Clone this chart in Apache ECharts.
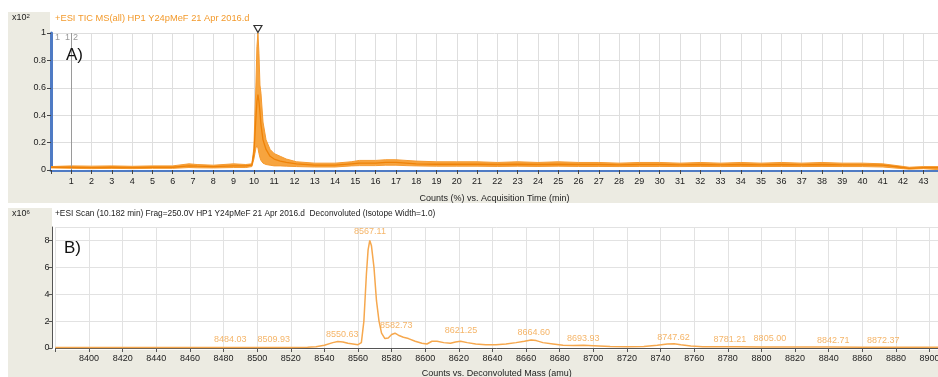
<!DOCTYPE html>
<html>
<head>
<meta charset="utf-8">
<script src="https://cdn.jsdelivr.net/npm/echarts@6/dist/echarts.min.js"></script>
<style>
  html, body { margin: 0; padding: 0; background: #fff; }
  #chart { width: 938px; height: 377px; }
</style>
</head>
<body>
<div id="chart"></div>
<script>
// A) TIC, acquisition time (min) vs counts (x10^2)
var ticTime  = [0, 1, 2, 3, 4, 5, 6, 6.8, 7.2, 8, 9, 9.6, 9.9, 10.0, 10.05, 10.1, 10.15, 10.2, 10.25, 10.3, 10.35, 10.45, 10.6, 10.8, 11.0, 11.3, 11.6, 12.1, 13, 14, 14.8, 15.2, 16, 16.5, 17, 17.5, 18, 19, 20, 21, 22, 23, 24, 25, 26, 27, 28, 29, 30, 31, 32, 33, 34, 35, 36, 37, 38, 39, 40, 41, 41.8, 42.3, 43, 43.72];
var ticUpper = [0.025, 0.03, 0.028, 0.03, 0.027, 0.03, 0.03, 0.045, 0.04, 0.035, 0.045, 0.04, 0.045, 0.16, 0.4, 0.62, 0.9, 1.0, 0.85, 0.62, 0.56, 0.35, 0.22, 0.15, 0.12, 0.1, 0.08, 0.06, 0.05, 0.05, 0.06, 0.07, 0.07, 0.075, 0.075, 0.07, 0.065, 0.06, 0.06, 0.06, 0.055, 0.06, 0.055, 0.06, 0.055, 0.055, 0.05, 0.055, 0.055, 0.05, 0.055, 0.05, 0.055, 0.05, 0.055, 0.05, 0.055, 0.05, 0.05, 0.045, 0.03, 0.02, 0.025, 0.025];
var ticMid   = [0.02, 0.02, 0.018, 0.02, 0.018, 0.02, 0.02, 0.03, 0.028, 0.025, 0.03, 0.03, 0.035, 0.12, 0.25, 0.38, 0.5, 0.55, 0.5, 0.42, 0.33, 0.22, 0.15, 0.1, 0.08, 0.065, 0.055, 0.045, 0.035, 0.035, 0.045, 0.05, 0.05, 0.055, 0.055, 0.05, 0.045, 0.042, 0.042, 0.042, 0.04, 0.042, 0.04, 0.042, 0.04, 0.04, 0.038, 0.04, 0.04, 0.038, 0.04, 0.038, 0.04, 0.038, 0.04, 0.038, 0.04, 0.038, 0.038, 0.035, 0.022, 0.012, 0.018, 0.018];
var ticLower = [0.015, 0.012, 0.01, 0.012, 0.01, 0.012, 0.012, 0.018, 0.016, 0.015, 0.018, 0.018, 0.025, 0.08, 0.12, 0.16, 0.18, 0.16, 0.12, 0.09, 0.07, 0.05, 0.04, 0.035, 0.03, 0.03, 0.028, 0.025, 0.022, 0.022, 0.03, 0.032, 0.032, 0.035, 0.035, 0.032, 0.03, 0.028, 0.028, 0.028, 0.026, 0.028, 0.026, 0.028, 0.026, 0.026, 0.025, 0.026, 0.026, 0.025, 0.026, 0.025, 0.026, 0.025, 0.026, 0.025, 0.026, 0.025, 0.025, 0.022, 0.012, 0.006, 0.01, 0.01];
var ticPeak = [10.2, 1.0];

// B) deconvoluted spectrum, mass (amu) vs counts (x10^6)
var specMass = [8380, 8400, 8450, 8500, 8520, 8530, 8535, 8540, 8545, 8548, 8551, 8554, 8557, 8560, 8562, 8563.5, 8565, 8566, 8567, 8568, 8569.5, 8571, 8572.5, 8574, 8576, 8578, 8580, 8582, 8584, 8587, 8590, 8594, 8598, 8601, 8604, 8607, 8611, 8615, 8618, 8621, 8625, 8630, 8636, 8642, 8648, 8654, 8659, 8663, 8666, 8670, 8676, 8682, 8688, 8694, 8700, 8710, 8720, 8730, 8738, 8744, 8748, 8752, 8758, 8765, 8775, 8785, 8800, 8820, 8840, 8860, 8880, 8905];
var specCounts = [0.04, 0.04, 0.04, 0.04, 0.04, 0.06, 0.1, 0.2, 0.4, 0.48, 0.45, 0.35, 0.3, 0.25, 0.4, 2.0, 5.5, 7.3, 8.0, 7.6, 6.0, 3.5, 2.0, 1.1, 0.7, 0.75, 1.0, 1.1, 0.95, 0.8, 0.7, 0.5, 0.35, 0.3, 0.5, 0.5, 0.4, 0.35, 0.45, 0.5, 0.4, 0.3, 0.25, 0.25, 0.3, 0.4, 0.5, 0.6, 0.55, 0.4, 0.3, 0.2, 0.18, 0.2, 0.17, 0.12, 0.1, 0.12, 0.2, 0.3, 0.32, 0.25, 0.15, 0.1, 0.1, 0.1, 0.08, 0.08, 0.07, 0.06, 0.06, 0.05];
var peakMass  = [8484.03, 8509.93, 8550.63, 8567.11, 8582.73, 8621.25, 8664.60, 8693.93, 8747.62, 8781.21, 8805.00, 8842.71, 8872.37];
var peakLabelY = [0.6, 0.6, 0.97, 8.65, 1.64, 1.27, 1.12, 0.67, 0.75, 0.6, 0.67, 0.52, 0.52];

var font = 'Liberation Sans';
var beige = '#ecebe2';
var orange = '#f39a2c';

function pairs(xs, ys) { return xs.map(function (x, i) { return [x, ys[i]]; }); }

var chart = echarts.init(document.getElementById('chart'));
chart.setOption({
  animation: false,
  backgroundColor: '#fff',
  textStyle: { fontFamily: font },
  graphic: [
    { type: 'rect', z: -10, shape: { x: 8, y: 12, width: 930, height: 191 }, style: { fill: beige } },
    { type: 'rect', z: -9, shape: { x: 50, y: 12, width: 888, height: 160 }, style: { fill: '#fff' } },
    { type: 'rect', z: -10, shape: { x: 8, y: 208, width: 930, height: 169 }, style: { fill: beige } },
    { type: 'rect', z: -9, shape: { x: 52, y: 208, width: 886, height: 142 }, style: { fill: '#fff' } },
    { type: 'text', z: 100, left: 12, top: 13, style: { text: '{a|x10}{b|2}', rich: { a: { fontSize: 9, fill: '#222', fontFamily: font }, b: { fontSize: 6, fill: '#222', verticalAlign: 'top', fontFamily: font } } } },
    { type: 'text', z: 100, left: 55, top: 14, style: { text: '+ESI TIC MS(all) HP1 Y24pMeF 21 Apr 2016.d', fill: orange, fontSize: 9.3, fontFamily: font } },
    { type: 'text', z: 100, left: 55, top: 33, style: { text: '1  1', fill: '#999', fontSize: 9, fontFamily: font } },
    { type: 'text', z: 100, left: 73, top: 33, style: { text: '2', fill: '#999', fontSize: 9, fontFamily: font } },
    { type: 'text', z: 100, left: 66, top: 47, style: { text: 'A)', fill: '#111', fontSize: 17, fontFamily: font } },
    { type: 'text', z: 100, left: 12, top: 209, style: { text: '{a|x10}{b|6}', rich: { a: { fontSize: 9, fill: '#222', fontFamily: font }, b: { fontSize: 6, fill: '#222', verticalAlign: 'top', fontFamily: font } } } },
    { type: 'text', z: 100, left: 55, top: 210, style: { text: '+ESI Scan (10.182 min) Frag=250.0V HP1 Y24pMeF 21 Apr 2016.d  Deconvoluted (Isotope Width=1.0)', fill: '#222', fontSize: 8.3, fontFamily: font } },
    { type: 'text', z: 100, left: 64, top: 240, style: { text: 'B)', fill: '#111', fontSize: 17, fontFamily: font } }
  ],
  grid: [
    { left: 51, right: 0, top: 33, bottom: 207, outerBoundsMode: 'none' },
    { left: 55.4, right: 0, top: 227, bottom: 29, outerBoundsMode: 'none' }
  ],
  xAxis: [
    {
      gridIndex: 0, type: 'value', min: 0, max: 43.72, interval: 1, offset: 2,
      name: 'Counts (%) vs. Acquisition Time (min)', nameLocation: 'middle', nameGap: 22,
      nameTextStyle: { fontSize: 9, color: '#222', fontFamily: font },
      axisLine: { lineStyle: { color: '#4f7bc4', width: 3 } },
      axisTick: { length: 4, lineStyle: { color: '#444' } },
      axisLabel: { fontSize: 9, color: '#222', margin: 5, showMaxLabel: false,
        formatter: function (v) { return (v >= 1 && Math.abs(v - Math.round(v)) < 1e-6) ? String(Math.round(v)) : ''; } },
      splitLine: { show: true, lineStyle: { color: '#dedede', width: 1 } }
    },
    {
      gridIndex: 1, type: 'value', min: 8380, max: 8905, interval: 20, offset: 2,
      name: 'Counts vs. Deconvoluted Mass (amu)', nameLocation: 'middle', nameGap: 19,
      nameTextStyle: { fontSize: 9, color: '#222', fontFamily: font },
      axisLine: { lineStyle: { color: '#555', width: 1 } },
      axisTick: { length: 4, lineStyle: { color: '#555' } },
      axisLabel: { fontSize: 9, color: '#222', margin: 4, showMaxLabel: false,
        formatter: function (v) { return (v > 8380 && v % 20 === 0) ? String(v) : ''; } },
      splitLine: { show: true, lineStyle: { color: '#e2e2e2', width: 1 } }
    }
  ],
  yAxis: [
    {
      gridIndex: 0, type: 'value', min: 0, max: 1, interval: 0.2,
      axisLine: { show: true, lineStyle: { color: '#4f7bc4', width: 3 } },
      axisTick: { show: true, length: 4, lineStyle: { color: '#444' } },
      axisLabel: { fontSize: 9, color: '#222', margin: 5,
        formatter: function (v) { return v === 0 ? '0' : v === 1 ? '1' : v.toFixed(1); } },
      splitLine: { show: true, lineStyle: { color: '#dedede', width: 1 } }
    },
    {
      gridIndex: 1, type: 'value', min: 0, max: 9, interval: 2, offset: 3,
      axisLine: { show: true, lineStyle: { color: '#555', width: 1 } },
      axisTick: { show: true, length: 4, lineStyle: { color: '#555' } },
      axisLabel: { fontSize: 9, color: '#222', margin: 3, showMaxLabel: false,
        formatter: function (v) { return v % 2 === 0 ? String(v) : ''; } },
      splitLine: { show: true, lineStyle: { color: '#e2e2e2', width: 1 } }
    }
  ],
  series: [
    {
      type: 'line', xAxisIndex: 0, yAxisIndex: 0, data: pairs(ticTime, ticUpper),
      symbol: 'none', z: 3,
      lineStyle: { color: '#f59a30', width: 1 },
      areaStyle: { color: '#f7a43e', opacity: 1 },
      markLine: {
        silent: true, symbol: 'none', label: { show: false },
        lineStyle: { color: '#9a9a9a', width: 1, type: 'solid' },
        data: [{ xAxis: 1 }]
      },
      markPoint: {
        symbol: 'triangle', symbolRotate: 180, symbolSize: [8, 7], symbolOffset: [0, -4],
        itemStyle: { color: '#fff', borderColor: '#333', borderWidth: 1.2 },
        label: { show: false },
        data: [{ coord: ticPeak }]
      }
    },
    {
      type: 'line', xAxisIndex: 0, yAxisIndex: 0, data: pairs(ticTime, ticLower),
      symbol: 'none', z: 4,
      lineStyle: { color: '#f59a30', width: 1 },
      areaStyle: { color: '#fff', opacity: 1 }
    },
    {
      type: 'line', xAxisIndex: 0, yAxisIndex: 0, data: pairs(ticTime, ticMid),
      symbol: 'none', z: 5,
      lineStyle: { color: '#ee8208', width: 1.3 }
    },
    {
      type: 'line', xAxisIndex: 1, yAxisIndex: 1, data: pairs(specMass, specCounts),
      symbol: 'none', z: 3,
      lineStyle: { color: '#f6a84e', width: 1.5 }
    },
    {
      type: 'scatter', xAxisIndex: 1, yAxisIndex: 1, data: pairs(peakMass, peakLabelY),
      symbolSize: 0, z: 6, silent: true,
      label: {
        show: true, position: 'inside', fontSize: 9, color: '#f3a243', fontFamily: font,
        formatter: function (p) { return p.value[0].toFixed(2); }
      }
    }
  ]
});
</script>
</body>
</html>
